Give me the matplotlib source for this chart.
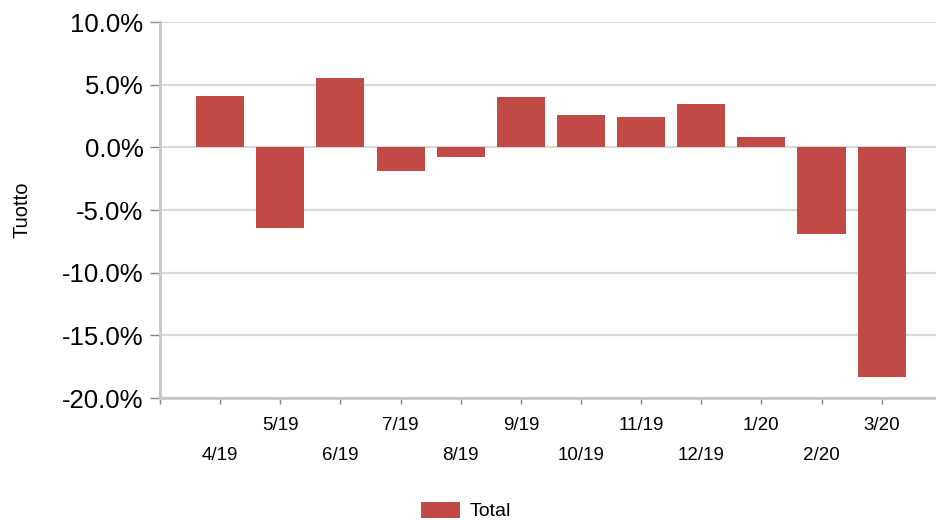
import matplotlib
matplotlib.use("Agg")
import matplotlib.pyplot as plt
import numpy as np
from matplotlib.ticker import FuncFormatter, FixedLocator

plt.rcParams['font.family'] = ['Liberation Sans', 'DejaVu Sans']

categories = ['4/19', '5/19', '6/19', '7/19', '8/19', '9/19', '10/19',
              '11/19', '12/19', '1/20', '2/20', '3/20']
values = [4.1, -6.4, 5.5, -1.85, -0.8, 4.05, 2.55, 2.45, 3.45, 0.8, -6.95, -18.3]
series_name = 'Total'
y_label = 'Tuotto'

bar_color = '#C24A46'
grid_color = '#D9D9D9'
axis_color = '#C8C8C8'

fig = plt.figure(figsize=(9.37, 5.2), dpi=100)
ax = fig.add_axes([160/937, 1-398/520, 1-160/937, (398-22)/520])

x = np.arange(len(categories))
bars = ax.bar(x, values, width=0.8, color=bar_color, label=series_name, zorder=3)

ax.set_xlim(-1, 11.92)
ax.set_ylim(-20, 10)
ax.set_yticks(np.arange(-20, 10.1, 5))
ax.yaxis.set_major_formatter(FuncFormatter(lambda v, p: f"{v:.1f}%"))
ax.grid(axis='y', color=grid_color, linewidth=1.6, zorder=0)
ax.set_axisbelow(True)

for s in ['top', 'right']:
    ax.spines[s].set_visible(False)
for s in ['left', 'bottom']:
    ax.spines[s].set_color(axis_color)
    ax.spines[s].set_linewidth(2)

ax.tick_params(axis='y', length=7, width=1, color='#888888', labelsize=18.5, pad=5)
ax.tick_params(axis='x', length=4, width=1, color='#888888', labelsize=13.5)
ax.set_xticks(x)
ax.set_xticklabels(categories)
ax.xaxis.set_minor_locator(FixedLocator([-1]))
ax.tick_params(axis='x', which='minor', length=4, width=1, color='#888888')

for i, t in enumerate(ax.xaxis.get_major_ticks()):
    t.set_pad(10 if i % 2 == 1 else 31)

ax.set_ylabel(y_label, fontsize=14.5)
ax.yaxis.set_label_coords(-(160-32)/777, 0.5)

fig.legend(handles=[bars], labels=[series_name], loc='center',
           bbox_to_anchor=(466/937, 1-511/520), frameon=False,
           fontsize=14, handlelength=2.0, handleheight=0.9, handletextpad=0.5)

fig.savefig('out.png', dpi=100)
